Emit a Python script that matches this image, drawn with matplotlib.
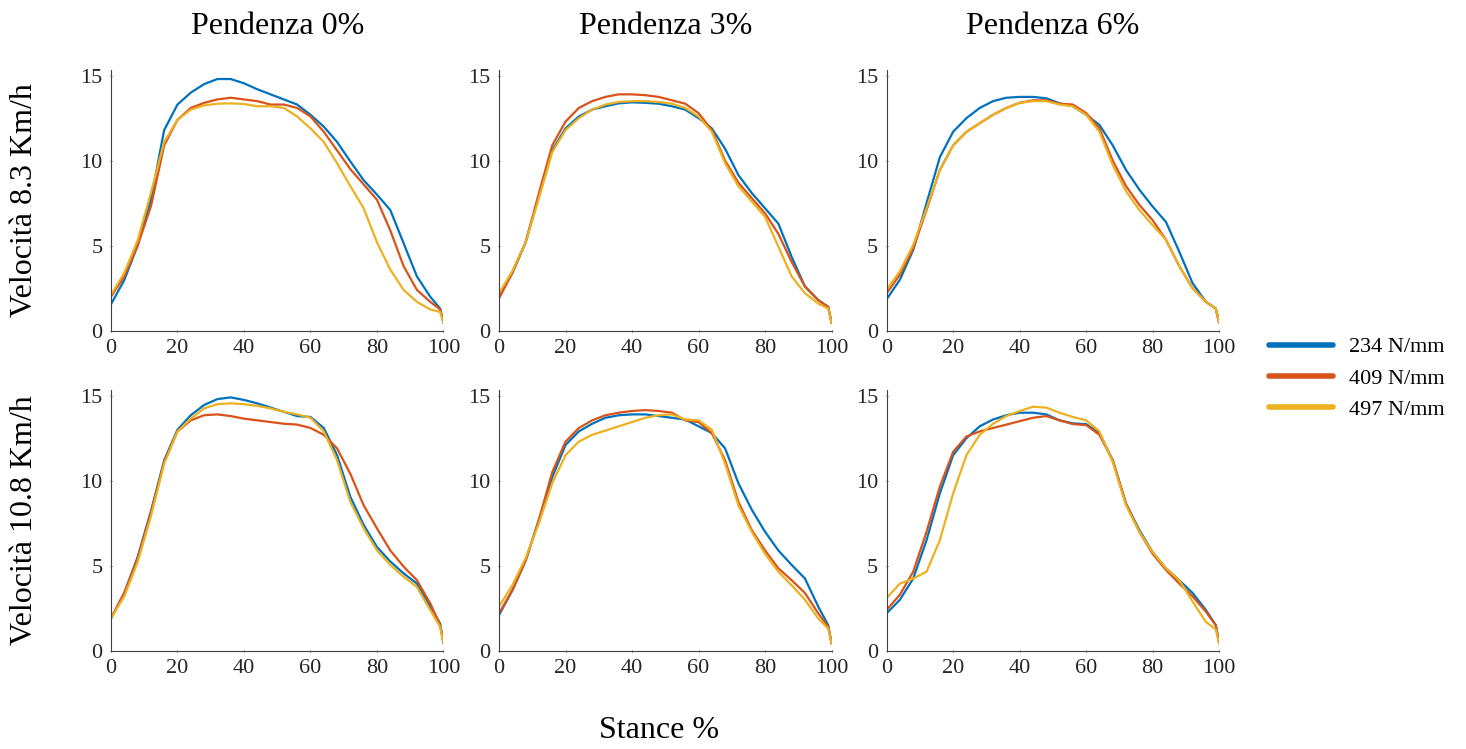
import matplotlib
matplotlib.use("Agg")
import matplotlib.pyplot as plt
import numpy as np

plt.rcParams["font.family"] = ["Liberation Serif", "DejaVu Serif"]

# stance percentage at which the curves are sampled
stance = [0, 4, 8, 12, 16, 20, 24, 28, 32, 36, 40, 44, 48, 52, 56, 60,
          64, 68, 72, 76, 80, 84, 88, 92, 96, 99, 100]

stiffness_labels = ["234 N/mm", "409 N/mm", "497 N/mm"]
slope_titles = ["Pendenza 0%", "Pendenza 3%", "Pendenza 6%"]
speed_labels = ["Velocità 8.3 Km/h", "Velocità 10.8 Km/h"]
colors = ["#0072BD", "#D95319", "#EDB120"]

# 8.3 km/h, slope 0%
v83_p0_234 = [1.55, 2.98, 5.0, 7.7, 11.8, 13.3, 14.0, 14.5, 14.8, 14.8, 14.55, 14.2, 13.9, 13.6,
              13.3, 12.7, 12.0, 11.1, 9.95, 8.85, 8.0, 7.1, 5.15, 3.2, 2.0, 1.3, 0.47]
v83_p0_409 = [2.0, 3.2, 5.0, 7.3, 10.9, 12.4, 13.1, 13.4, 13.6, 13.7, 13.6, 13.5, 13.3, 13.3,
              13.1, 12.6, 11.7, 10.6, 9.5, 8.6, 7.7, 5.9, 3.8, 2.4, 1.7, 1.25, 0.47]
v83_p0_497 = [2.1, 3.4, 5.3, 8.1, 11.1, 12.4, 13.0, 13.25, 13.35, 13.37, 13.33, 13.2, 13.2, 13.1,
              12.6, 11.9, 11.1, 9.85, 8.5, 7.2, 5.2, 3.6, 2.4, 1.7, 1.25, 1.1, 0.47]

# 8.3 km/h, slope 3%
v83_p3_234 = [2.0, 3.4, 5.2, 7.9, 10.6, 11.9, 12.6, 13.0, 13.2, 13.37, 13.43, 13.4, 13.35, 13.2,
              13.0, 12.5, 11.9, 10.7, 9.15, 8.1, 7.2, 6.3, 4.35, 2.6, 1.8, 1.4, 0.47]
v83_p3_409 = [1.9, 3.4, 5.2, 8.1, 10.9, 12.3, 13.1, 13.5, 13.75, 13.9, 13.9, 13.85, 13.75, 13.55,
              13.35, 12.8, 11.8, 10.0, 8.7, 7.8, 6.9, 5.7, 4.05, 2.6, 1.8, 1.4, 0.47]
v83_p3_497 = [2.2, 3.5, 5.2, 7.8, 10.5, 11.8, 12.5, 13.0, 13.3, 13.45, 13.5, 13.5, 13.45, 13.35,
              13.1, 12.6, 11.7, 9.85, 8.5, 7.6, 6.7, 4.95, 3.2, 2.2, 1.6, 1.3, 0.47]

# 8.3 km/h, slope 6%
v83_p6_234 = [1.85, 3.0, 4.75, 7.5, 10.2, 11.7, 12.5, 13.1, 13.5, 13.7, 13.75, 13.75, 13.67, 13.37,
              13.2, 12.7, 12.1, 10.9, 9.45, 8.3, 7.3, 6.4, 4.65, 2.8, 1.7, 1.3, 0.47]
v83_p6_409 = [2.2, 3.3, 4.85, 7.1, 9.45, 10.9, 11.7, 12.2, 12.7, 13.1, 13.4, 13.55, 13.55, 13.35,
              13.3, 12.8, 11.9, 10.0, 8.5, 7.4, 6.5, 5.35, 3.8, 2.5, 1.7, 1.3, 0.47]
v83_p6_497 = [2.4, 3.5, 5.05, 7.2, 9.45, 10.9, 11.7, 12.2, 12.7, 13.1, 13.4, 13.5, 13.5, 13.3,
              13.2, 12.7, 11.7, 9.75, 8.2, 7.1, 6.2, 5.35, 3.8, 2.5, 1.7, 1.3, 0.47]

# 10.8 km/h, slope 0%
v108_p0_234 = [1.9, 3.4, 5.5, 8.2, 11.2, 13.0, 13.85, 14.45, 14.8, 14.9, 14.75, 14.55, 14.3, 14.05,
               13.8, 13.75, 13.1, 11.5, 9.05, 7.4, 6.1, 5.25, 4.55, 3.95, 2.6, 1.6, 0.45]
v108_p0_409 = [1.9, 3.4, 5.4, 8.1, 11.1, 12.9, 13.55, 13.85, 13.9, 13.8, 13.65, 13.55, 13.45, 13.35,
               13.3, 13.1, 12.7, 11.9, 10.4, 8.55, 7.2, 5.9, 4.95, 4.15, 2.8, 1.5, 0.45]
v108_p0_497 = [1.9, 3.2, 5.2, 7.9, 11.0, 12.9, 13.65, 14.25, 14.5, 14.55, 14.5, 14.4, 14.25, 14.05,
               13.9, 13.7, 12.9, 11.2, 8.75, 7.2, 5.9, 5.05, 4.35, 3.75, 2.4, 1.4, 0.45]

# 10.8 km/h, slope 3%
v108_p3_234 = [2.1, 3.55, 5.3, 7.7, 10.2, 12.1, 12.9, 13.35, 13.7, 13.85, 13.9, 13.9, 13.8, 13.7,
               13.6, 13.2, 12.8, 11.9, 9.85, 8.3, 7.0, 5.9, 5.05, 4.25, 2.6, 1.5, 0.45]
v108_p3_409 = [2.2, 3.55, 5.3, 7.7, 10.5, 12.3, 13.1, 13.55, 13.85, 14.0, 14.1, 14.15, 14.1, 14.0,
               13.55, 13.45, 12.8, 11.2, 8.75, 7.1, 5.9, 4.85, 4.15, 3.4, 2.2, 1.4, 0.45]
v108_p3_497 = [2.6, 3.85, 5.45, 7.5, 9.85, 11.5, 12.3, 12.7, 12.95, 13.2, 13.45, 13.7, 13.85, 13.9,
               13.6, 13.55, 13.0, 11.0, 8.55, 7.0, 5.7, 4.65, 3.85, 3.0, 1.9, 1.3, 0.45]

# 10.8 km/h, slope 6%
v108_p6_234 = [2.2, 3.0, 4.25, 6.5, 9.25, 11.5, 12.5, 13.2, 13.6, 13.85, 14.0, 14.0, 13.9, 13.55,
               13.37, 13.33, 12.8, 11.2, 8.65, 7.1, 5.8, 4.85, 4.15, 3.4, 2.4, 1.5, 0.45]
v108_p6_409 = [2.4, 3.3, 4.65, 7.0, 9.65, 11.7, 12.6, 12.9, 13.1, 13.3, 13.5, 13.7, 13.8, 13.55,
               13.33, 13.27, 12.7, 11.2, 8.65, 7.0, 5.7, 4.75, 3.95, 3.2, 2.3, 1.5, 0.45]
v108_p6_497 = [3.1, 3.95, 4.25, 4.65, 6.5, 9.25, 11.5, 12.7, 13.35, 13.8, 14.1, 14.35, 14.3, 14.0,
               13.75, 13.55, 12.9, 11.1, 8.55, 7.0, 5.8, 4.85, 4.15, 2.9, 1.7, 1.25, 0.45]

grid = [
    [[v83_p0_234, v83_p0_409, v83_p0_497],
     [v83_p3_234, v83_p3_409, v83_p3_497],
     [v83_p6_234, v83_p6_409, v83_p6_497]],
    [[v108_p0_234, v108_p0_409, v108_p0_497],
     [v108_p3_234, v108_p3_409, v108_p3_497],
     [v108_p6_234, v108_p6_409, v108_p6_497]],
]

fig = plt.figure(figsize=(14.66, 7.49), dpi=100)
fig.patch.set_facecolor("white")

lefts = [0.0757, 0.3404, 0.6048]
bottoms = [0.5585, 0.1312]
w, h = 0.2268, 0.348

handles = []
for r in range(2):
    for c in range(3):
        ax = fig.add_axes([lefts[c], bottoms[r], w, h])
        for k, series in enumerate(grid[r][c]):
            ln, = ax.plot(stance, series, color=colors[k], lw=1.6)
            if r == 0 and c == 0:
                handles.append(ln)
        ax.set_xlim(0, 100)
        ax.set_ylim(0, 15.33)
        ax.set_xticks([0, 20, 40, 60, 80, 100])
        ax.set_yticks([0, 5, 10, 15])
        for s in ["top", "right"]:
            ax.spines[s].set_visible(False)
        for s in ["left", "bottom"]:
            ax.spines[s].set_color("#404040")
            ax.spines[s].set_linewidth(0.8)
        ax.tick_params(length=2, width=0.6, direction="inout", colors="#404040",
                       labelsize=16, labelcolor="#262626", pad=5)
        if r == 0:
            ax.set_title(slope_titles[c], fontsize=23, pad=26)
        if c == 0:
            ax.set_ylabel(speed_labels[r], fontsize=23)
            ax.yaxis.set_label_coords(-0.215, 0.5)

fig.text(0.4495, 0.025, "Stance %", ha="center", va="center", fontsize=23)

fig.legend(handles, stiffness_labels, loc="center left", bbox_to_anchor=(0.852, 0.495),
           frameon=False, fontsize=16, handlelength=2.9, handletextpad=0.7,
           labelspacing=0.48)
for ln in fig.legends[0].get_lines():
    ln.set_linewidth(4)
    ln.set_solid_capstyle("round")

fig.savefig("out.png", dpi=100, facecolor="white")
plt.close(fig)
